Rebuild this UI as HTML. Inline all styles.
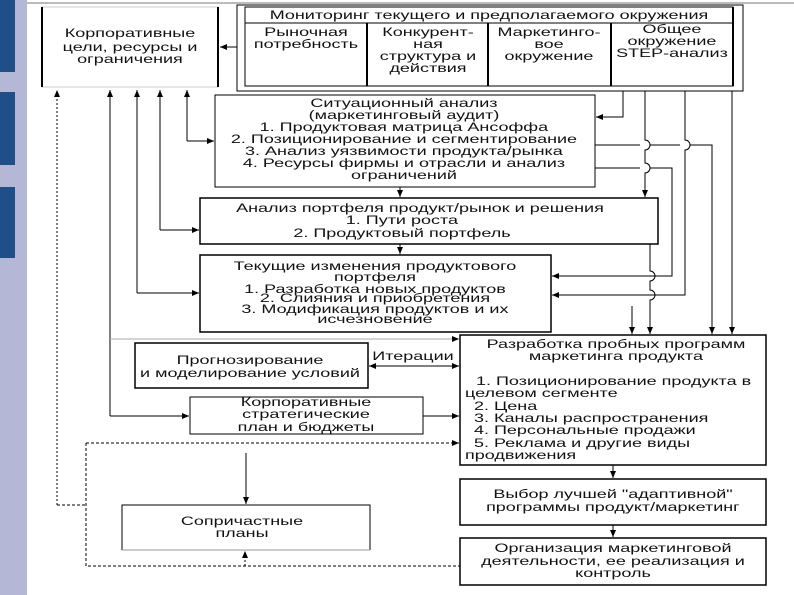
<!DOCTYPE html>
<html><head><meta charset="utf-8"><style>
html,body{margin:0;padding:0;background:#fff;}
svg{display:block;}
text{font-family:"Liberation Sans","DejaVu Sans",sans-serif;font-size:12px;fill:#111;transform-box:fill-box;transform:scaleX(1.5);}
.c text{transform-origin:center;}
.l text{transform-origin:left;}
</style></head><body>
<svg width="794" height="595" viewBox="0 0 794 595" xmlns="http://www.w3.org/2000/svg">
<defs>
<marker id="a" markerWidth="8" markerHeight="8" refX="7" refY="4" orient="auto" markerUnits="userSpaceOnUse"><path d="M0,1 L7,4 L0,7 z" fill="#000"/></marker>
</defs>
<rect x="0" y="0" width="27" height="595" fill="#b4b8d6"/>
<rect x="0" y="0" width="15" height="72" fill="#1f4f86"/>
<rect x="0" y="92" width="15" height="73" fill="#1f4f86"/>
<rect x="0" y="187" width="15" height="71" fill="#1f4f86"/>
<line x1="27" y1="3" x2="794" y2="3" stroke="#bbb" stroke-width="2"/>

<g fill="none" stroke="#000" stroke-width="1">
<rect x="42" y="7" width="176" height="80" stroke="#ccc"/>
<line x1="42" y1="7" x2="42" y2="87" stroke-width="2"/>
<line x1="218" y1="7" x2="218" y2="87" stroke-width="2"/>
<rect x="237" y="5" width="506" height="86"/>
<rect x="245" y="7" width="488" height="79"/>
<line x1="245" y1="23" x2="733" y2="23"/>
<line x1="367" y1="23" x2="367" y2="86" stroke-width="2"/>
<line x1="488" y1="23" x2="488" y2="86" stroke-width="2"/>
<line x1="611" y1="23" x2="611" y2="86" stroke-width="2"/>
<line x1="733" y1="7" x2="733" y2="86" stroke-width="2"/>
<line x1="237" y1="47" x2="220" y2="47" marker-end="url(#a)"/>
<rect x="215" y="95" width="380" height="92"/>
<rect x="200" y="198" width="458" height="46" stroke-width="1.5"/>
<rect x="200" y="255" width="351" height="77" stroke-width="1.5"/>
<rect x="460" y="335" width="306" height="130" stroke-width="1.5"/>
<rect x="135" y="343" width="233" height="45" stroke-width="1.5"/>
<rect x="190" y="397" width="233" height="37"/>
<rect x="460" y="479" width="306" height="46" stroke-width="1.5"/>
<rect x="460" y="538" width="306" height="47" stroke-width="1.5"/>
<path d="M122,550 V505 H370 V550" stroke-width="1"/>
<line x1="122" y1="550" x2="370" y2="550" stroke="#999"/>
<line x1="400" y1="187" x2="400" y2="197" marker-end="url(#a)"/>
<line x1="400" y1="244" x2="400" y2="254" marker-end="url(#a)"/>
<path d="M57,505 V90" stroke-dasharray="2,2" marker-end="url(#a)"/>
<path d="M57,505 H86" stroke-dasharray="3,2"/>
<path d="M110,416 V90" marker-end="url(#a)"/>
<path d="M110,416 H189" marker-end="url(#a)"/>
<path d="M137,293 V90" marker-end="url(#a)"/>
<path d="M137,293 H199" marker-end="url(#a)"/>
<path d="M160,230 V90" marker-end="url(#a)"/>
<path d="M160,230 H199" marker-end="url(#a)"/>
<path d="M187,141 V90" marker-end="url(#a)"/>
<path d="M187,141 H214" marker-end="url(#a)"/>
<path d="M623,91 V117 H596" marker-end="url(#a)"/>
<path d="M645,91 V140 a5,5 0 0 1 0,10 V163 a5,5 0 0 1 0,10 V197" marker-end="url(#a)"/>
<path d="M685,91 V140 a5,5 0 0 1 0,10 V295 H552" marker-end="url(#a)"/>
<path d="M595,145 H640 M650,145 H680 M690,145 H712 V334" marker-end="url(#a)"/>
<path d="M595,168 H640 M650,168 H672 V276 H552" marker-end="url(#a)"/>
<path d="M650,244 V271 a5,5 0 0 1 0,10 V290 a5,5 0 0 1 0,10 V334" marker-end="url(#a)"/>
<path d="M632,306 V334" marker-end="url(#a)"/>
<path d="M732,91 V334" marker-end="url(#a)"/>
<path d="M110,339 H459" stroke="#aaa" marker-end="url(#a)"/>
<path d="M375,366 H459" marker-end="url(#a)"/>
<path d="M455,366 H369" marker-end="url(#a)"/>
<path d="M423,416 H459" marker-end="url(#a)"/>
<path d="M86,443 H459" stroke-dasharray="3,2" marker-end="url(#a)"/>
<path d="M86,443 V566 H460" stroke-dasharray="3,2"/>
<path d="M245,566 V551" stroke-dasharray="2,2" marker-end="url(#a)"/>
<path d="M246,453 V504" marker-end="url(#a)"/>
<path d="M613,465 V478" marker-end="url(#a)"/>
<path d="M613,525 V537" marker-end="url(#a)"/>
</g>

<g class="c" text-anchor="middle">
<text x="130" y="37" font-size="12.5">Корпоративные</text>
<text x="130" y="51" font-size="12.5">цели, ресурсы и</text>
<text x="130" y="63" font-size="11">ограничения</text>
<text x="489" y="19">Мониторинг текущего и предполагаемого окружения</text>
<text x="306" y="36">Рыночная</text><text x="306" y="48">потребность</text>
<text x="428" y="36">Конкурент-</text><text x="428" y="48">ная</text><text x="428" y="60">структура и</text><text x="428" y="72">действия</text>
<text x="549" y="36">Маркетинго-</text><text x="549" y="48">вое</text><text x="549" y="60">окружение</text>
<text x="672" y="33">Общее</text><text x="672" y="45">окружение</text><text x="672" y="57">STEP-анализ</text>
<text x="404" y="107">Ситуационный анализ</text>
<text x="404" y="119">(маркетинговый аудит)</text>
<text x="404" y="131">1. Продуктовая матрица Ансоффа</text>
<text x="404" y="143">2. Позиционирование и сегментирование</text>
<text x="404" y="155">3. Анализ уязвимости продукта/рынка</text>
<text x="404" y="167">4. Ресурсы фирмы и отрасли и анализ</text>
<text x="404" y="179">ограничений</text>
<text x="420" y="212">Анализ портфеля продукт/рынок и решения</text>
<text x="402" y="224">1. Пути роста</text>
<text x="402" y="237">2. Продуктовый портфель</text>
<text x="375" y="270">Текущие изменения продуктового</text>
<text x="375" y="281">портфеля</text>
<text x="375" y="293">1. Разработка новых продуктов</text>
<text x="375" y="302">2. Слияния и приобретения</text>
<text x="375" y="313">3. Модификация продуктов и их</text>
<text x="375" y="323">исчезновение</text>
<text x="250" y="364">Прогнозирование</text>
<text x="250" y="377">и моделирование условий</text>
<text x="413" y="360">Итерации</text>
<text x="306" y="406">Корпоративные</text>
<text x="306" y="418">стратегические</text>
<text x="306" y="431">план и бюджеты</text>
<text x="616" y="348">Разработка пробных программ</text>
<text x="616" y="360">маркетинга продукта</text>
<text x="242" y="525">Сопричастные</text>
<text x="242" y="537">планы</text>
<text x="613" y="498">Выбор лучшей "адаптивной"</text>
<text x="613" y="511">программы продукт/маркетинг</text>
<text x="613" y="552">Организация маркетинговой</text>
<text x="613" y="565">деятельности, ее реализация и</text>
<text x="613" y="577">контроль</text>
</g>
<g class="l">
<text x="476" y="385">1. Позиционирование продукта в</text>
<text x="465" y="397">целевом сегменте</text>
<text x="474" y="410">2. Цена</text>
<text x="474" y="422">3. Каналы распространения</text>
<text x="474" y="434">4. Персональные продажи</text>
<text x="474" y="447">5. Реклама и другие виды</text>
<text x="465" y="459">продвижения</text>
</g>
</svg>
</body></html>
